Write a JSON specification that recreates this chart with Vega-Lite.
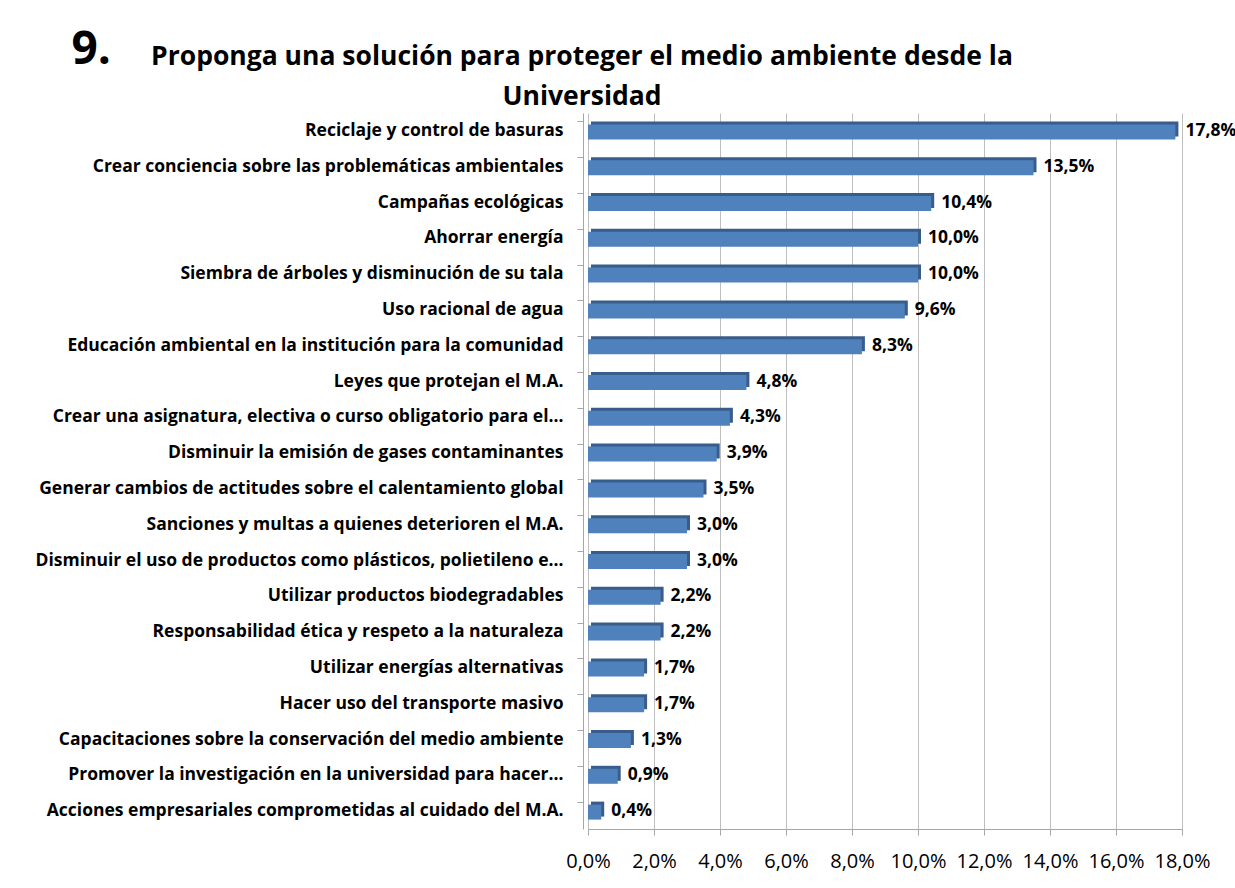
{
  "$schema": "https://vega.github.io/schema/vega-lite/v6.json",
  "width": 594,
  "height": 716,
  "autosize": {"type": "none"},
  "padding": {"left": 588, "top": 113, "right": 53, "bottom": 59},
  "background": "white",
  "config": {
    "locale": {"number": {"decimal": ",", "thousands": ".", "grouping": [3], "currency": ["", " €"]}},
    "view": {"stroke": null},
    "font": "Open Sans"
  },
  "title": {
    "text": ["Proponga una solución para proteger el medio ambiente desde la", "Universidad"],
    "fontSize": 26.5,
    "font": "Open Sans",
    "fontWeight": "bold",
    "lineHeight": 40,
    "anchor": "middle",
    "dx": -303,
    "offset": -84,
    "color": "#000000"
  },
  "data": {
    "values": [
      {"label": "Reciclaje y control de basuras", "value": 0.178},
      {"label": "Crear conciencia sobre las problemáticas ambientales", "value": 0.135},
      {"label": "Campañas ecológicas", "value": 0.104},
      {"label": "Ahorrar energía", "value": 0.100},
      {"label": "Siembra de árboles y disminución de su tala", "value": 0.100},
      {"label": "Uso racional de agua", "value": 0.096},
      {"label": "Educación ambiental  en la institución para la comunidad", "value": 0.083},
      {"label": "Leyes que protejan el M.A.", "value": 0.048},
      {"label": "Crear una  asignatura, electiva o curso obligatorio  para el…", "value": 0.043},
      {"label": "Disminuir la emisión de gases contaminantes", "value": 0.039},
      {"label": "Generar cambios de actitudes sobre el calentamiento global", "value": 0.035},
      {"label": "Sanciones y multas a quienes deterioren el M.A.", "value": 0.030},
      {"label": "Disminuir el uso de productos como plásticos, polietileno e…", "value": 0.030},
      {"label": "Utilizar productos biodegradables", "value": 0.022},
      {"label": "Responsabilidad ética y respeto a la naturaleza", "value": 0.022},
      {"label": "Utilizar energías alternativas", "value": 0.017},
      {"label": "Hacer uso del transporte masivo", "value": 0.017},
      {"label": "Capacitaciones sobre la conservación del medio ambiente", "value": 0.013},
      {"label": "Promover la investigación en la universidad para hacer…", "value": 0.009},
      {"label": "Acciones empresariales comprometidas al cuidado del M.A.", "value": 0.004}
    ]
  },
  "encoding": {
    "y": {
      "field": "label",
      "type": "nominal",
      "sort": null,
      "scale": {"paddingInner": 0.5, "paddingOuter": 0.25},
      "axis": {
        "title": "9.",
        "titleAngle": 0,
        "titleX": -512,
        "titleY": -50,
        "titleAlign": "left",
        "titleBaseline": "alphabetic",
        "titleFontSize": 46,
        "titleFont": "Open Sans",
        "titleFontWeight": "bold",
        "titleColor": "#000000",
        "labelFont": "Open Sans",
        "labelFontSize": 17.5,
        "labelFontWeight": "bold",
        "labelColor": "#000000",
        "labelLimit": 0,
        "labelPadding": 14,
        "tickSize": 6,
        "bandPosition": 0,
        "offset": 5,
        "domainColor": "#A6A6A6",
        "tickColor": "#A6A6A6"
      }
    },
    "x": {
      "field": "value",
      "type": "quantitative",
      "scale": {"domain": [0, 0.18], "nice": false},
      "axis": {
        "title": null,
        "format": ".1%",
        "values": [0, 0.02, 0.04, 0.06, 0.08, 0.10, 0.12, 0.14, 0.16, 0.18],
        "labelOverlap": false,
        "labelFlush": false,
        "labelDx": 7,
        "labelFont": "Open Sans",
        "labelFontSize": 20,
        "labelColor": "#000000",
        "labelPadding": 16,
        "grid": true,
        "gridColor": "#BFBFBF",
        "domainColor": "#A6A6A6",
        "tickColor": "#A6A6A6",
        "tickSize": 6
      }
    }
  },
  "layer": [
    {
      "mark": {"type": "bar", "color": "#385D8A", "height": 15, "xOffset": 3, "x2Offset": 3, "yOffset": -2}
    },
    {
      "mark": {"type": "bar", "color": "#4F81BD", "height": 15, "yOffset": 1}
    },
    {
      "mark": {"type": "text", "align": "left", "baseline": "middle", "dx": 10, "font": "Open Sans", "fontSize": 17.5, "fontWeight": "bold", "color": "#000000"},
      "encoding": {"text": {"field": "value", "type": "quantitative", "format": ".1%"}}
    }
  ]
}
